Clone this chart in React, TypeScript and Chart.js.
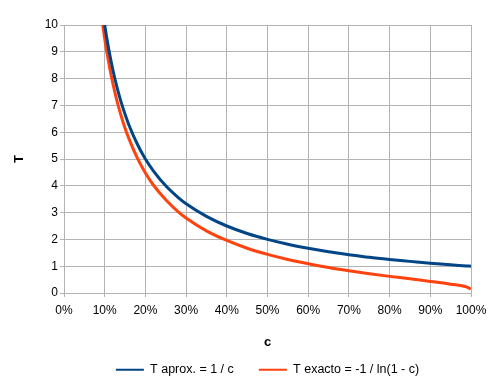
import React, { useEffect, useRef } from "react";
import { Chart, registerables } from "chart.js";

Chart.register(...registerables);

const cValues = [0.09, 0.1, 0.11, 0.12, 0.13, 0.14, 0.15, 0.16, 0.18, 0.2, 0.22, 0.25, 0.28, 0.3, 0.35, 0.4, 0.45, 0.5, 0.55, 0.6, 0.65, 0.7, 0.75, 0.8, 0.85, 0.9, 0.95, 0.98, 0.99, 1.0];
const tAprox = [11.11, 10.0, 9.09, 8.33, 7.69, 7.14, 6.67, 6.25, 5.56, 5.0, 4.55, 4.0, 3.57, 3.33, 2.86, 2.5, 2.22, 2.0, 1.82, 1.67, 1.54, 1.43, 1.33, 1.25, 1.18, 1.11, 1.05, 1.02, 1.01, 1.0];
const tExacto = [10.6, 9.49, 8.58, 7.82, 7.18, 6.63, 6.15, 5.74, 5.04, 4.48, 4.02, 3.48, 3.04, 2.8, 2.32, 1.96, 1.67, 1.44, 1.25, 1.09, 0.95, 0.83, 0.72, 0.62, 0.53, 0.43, 0.33, 0.26, 0.22, 0.15];
const seriesNames = ["T aprox. = 1 / c", "T exacto = -1 / ln(1 - c)"];
const seriesColors = ["#004586", "#ff420e"];
const xTitle = "c";
const yTitle = "T";

const FONT = "'Liberation Sans', Arial, sans-serif";

const legendShift = {
  id: "legendShift",
  afterLayout(chart: any) {
    const lg = chart.legend;
    if (lg) {
      lg.left += 32;
      lg.right += 32;
    }
  },
};

export default function App() {
  const ref = useRef<HTMLCanvasElement | null>(null);
  useEffect(() => {
    if (!ref.current) return;
    const mk = (ys: number[]) => cValues.map((x, i) => ({ x, y: ys[i] }));
    const chart = new Chart(ref.current, {
      type: "line",
      data: {
        datasets: [
          { label: seriesNames[0], data: mk(tAprox), borderColor: seriesColors[0], backgroundColor: seriesColors[0], borderWidth: 3, pointRadius: 0, cubicInterpolationMode: "monotone" },
          { label: seriesNames[1], data: mk(tExacto), borderColor: seriesColors[1], backgroundColor: seriesColors[1], borderWidth: 3, pointRadius: 0, cubicInterpolationMode: "monotone" },
        ],
      },
      plugins: [legendShift],
      options: {
        animation: false,
        responsive: false,
        maintainAspectRatio: false,
        layout: { padding: { top: 25, right: 27, bottom: 5, left: 0 } },
        plugins: {
          tooltip: { enabled: false },
          legend: {
            position: "bottom",
            labels: {
              usePointStyle: true,
              pointStyle: "line",
              pointStyleWidth: 28,
              color: "#000",
              font: { family: FONT, size: 12.5 },
              padding: 25,
              generateLabels: (ch: any) =>
                ch.data.datasets.map((d: any, i: number) => ({
                  text: d.label,
                  strokeStyle: d.borderColor,
                  fillStyle: d.borderColor,
                  lineWidth: 2,
                  pointStyle: "line",
                  hidden: false,
                  datasetIndex: i,
                  fontColor: "#000",
                })),
            },
          },
        },
        scales: {
          x: {
            type: "linear",
            min: 0,
            max: 1,
            afterFit: (s: any) => { s.height = 45.5; },
            ticks: {
              stepSize: 0.1,
              color: "#000",
              padding: 6,
              font: { family: FONT, size: 12 },
              callback: (v: any) => Math.round(Number(v) * 100) + "%",
            },
            grid: { color: "#b3b3b3", lineWidth: 1, tickLength: 4 },
            border: { color: "#b3b3b3", width: 1 },
            title: { display: true, text: xTitle, color: "#000", font: { family: FONT, size: 13, weight: "bold" }, padding: { top: 0, bottom: -11.5 } },
          },
          y: {
            min: 0,
            max: 10,
            afterFit: (s: any) => { s.width = 64; },
            ticks: { stepSize: 1, color: "#000", padding: 2, font: { family: FONT, size: 12 } },
            grid: { color: "#b3b3b3", lineWidth: 1, tickLength: 4 },
            border: { color: "#b3b3b3", width: 1 },
            title: { display: true, text: yTitle, color: "#000", font: { family: FONT, size: 13, weight: "bold" }, padding: { top: 12, bottom: 0 } },
          },
        },
      },
    });
    return () => chart.destroy();
  }, []);
  return (
    <div style={{ position: "fixed", left: 0, top: 0, width: 498, height: 391, background: "#fff" }}>
      <canvas ref={ref} width={498} height={391} style={{ width: 498, height: 391 }} />
    </div>
  );
}
